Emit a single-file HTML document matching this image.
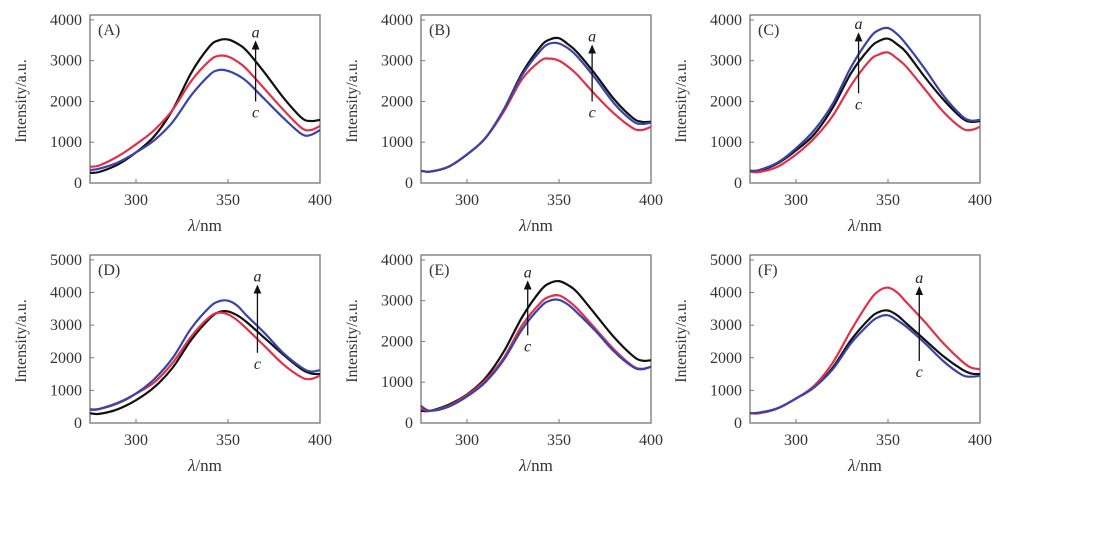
<!DOCTYPE html>
<html><head><meta charset="utf-8">
<style>
html,body{margin:0;padding:0;background:#fff;}
svg{display:block;font-family:"Liberation Serif",serif;}
</style></head>
<body>
<svg id="fig" width="1095" height="535" viewBox="0 0 1095 535"></svg>
<script>
const wavelengths = [275,280,290,300,310,320,330,340,345,350,355,360,370,380,390,395,400];
const panelLabels = ["(A)","(B)","(C)","(D)","(E)","(F)"];
const panelYMax = [4000,4000,4000,5000,4000,5000];
const xTicks = [300,350,400];
const seriesColors = ["#111111","#e0304a","#3a44a8"];
const seriesNames = ["black","red","blue"];

const A_black = [250,270,450,750,1150,1800,2700,3350,3500,3520,3420,3250,2700,2100,1600,1520,1550];
const A_red   = [400,430,650,950,1300,1800,2500,3000,3120,3100,2980,2800,2300,1800,1350,1300,1400];
const A_blue  = [320,350,500,750,1050,1500,2150,2650,2770,2750,2650,2500,2050,1600,1200,1180,1300];

const B_black = [300,280,400,700,1100,1800,2700,3350,3520,3550,3400,3200,2650,2050,1600,1500,1500];
const B_red   = [300,280,400,700,1100,1750,2550,3000,3050,3000,2850,2650,2150,1700,1350,1300,1380];
const B_blue  = [300,280,400,700,1100,1800,2650,3250,3420,3420,3300,3100,2550,1950,1520,1450,1480];

const C_black = [300,300,480,800,1200,1850,2700,3300,3480,3540,3400,3200,2600,2050,1600,1500,1520];
const C_red   = [280,270,400,700,1100,1650,2400,3000,3150,3200,3050,2850,2300,1750,1350,1300,1380];
const C_blue  = [300,320,500,850,1300,1950,2850,3550,3750,3800,3650,3400,2800,2150,1650,1530,1550];

const D_black = [300,280,420,700,1100,1700,2550,3200,3400,3420,3300,3100,2600,2100,1650,1520,1500];
const D_red   = [400,430,620,900,1250,1850,2650,3250,3380,3330,3150,2900,2350,1800,1400,1350,1450];
const D_blue  = [420,430,600,900,1350,2000,2900,3550,3730,3750,3600,3300,2750,2150,1700,1580,1620];

const E_black = [300,300,450,700,1100,1750,2600,3250,3430,3480,3380,3200,2650,2100,1650,1530,1540];
const E_red   = [350,300,420,680,1050,1600,2400,2950,3100,3130,3000,2800,2300,1800,1400,1330,1380];
const E_blue  = [420,300,400,650,1000,1550,2300,2850,3000,3020,2900,2700,2250,1750,1380,1320,1380];

const F_black = [300,300,450,750,1100,1700,2550,3200,3400,3450,3300,3050,2550,2050,1650,1520,1500];
const F_red   = [300,300,450,750,1150,1850,2850,3750,4050,4150,4000,3700,3100,2450,1900,1700,1650];
const F_blue  = [300,320,450,750,1100,1650,2450,3050,3250,3300,3150,2950,2450,1900,1480,1420,1450];

const panelSeries = [[A_black,A_red,A_blue],[B_black,B_red,B_blue],[C_black,C_red,C_blue],
                     [D_black,D_red,D_blue],[E_black,E_red,E_blue],[F_black,F_red,F_blue]];
const arrowX = [365,368,334,366,333,367];
const arrowTop = [3500,3400,3700,4250,3500,4200];
const arrowBot = [2000,2000,2200,2150,2150,1900];

const NS="http://www.w3.org/2000/svg";
const svg=document.getElementById('fig');
function mk(tag,attrs,parent){const e=document.createElementNS(NS,tag);for(const k in attrs)e.setAttribute(k,attrs[k]);(parent||svg).appendChild(e);return e;}

const colX=[90,421,750], rowY=[15,255];
const W=230, H=168;
svg.innerHTML+='<defs><marker id="ah" markerWidth="8" markerHeight="8" refX="4" refY="4" orient="auto"><path d="M0,1 L7,4 L0,7 Z" fill="#111"/></marker></defs>';

for(let p=0;p<6;p++){
  const x0=colX[p%3], y0=rowY[Math.floor(p/3)];
  const ymax=panelYMax[p];
  const top=ymax*1.03;
  const sx=v=>x0+(v-275)/(400-275)*W;
  const sy=v=>y0+H-(v/top)*H;
  const g=mk('g',{});
  
  
  const box=mk('rect',{x:x0,y:y0,width:W,height:H,fill:'none',stroke:'#777','stroke-width':1.3},g);
  
  
  for(let v=0;v<=ymax;v+=1000){
    const y=sy(v);
    mk('line',{x1:x0,x2:x0+4,y1:y,y2:y,stroke:'#777'},g);
    const t=mk('text',{x:x0-8,y:y+5,'text-anchor':'end','font-size':16,fill:'#333'},g);
    t.textContent=v;
    
    
  }
  for(const v of xTicks){
    const x=sx(v);
    mk('line',{x1:x,x2:x,y1:y0+H,y2:y0+H-4,stroke:'#777'},g);
    const t=mk('text',{x:x,y:y0+H+22,'text-anchor':'middle','font-size':16,fill:'#333'},g);
    t.textContent=v;
    
    
  }
  const yt=mk('text',{x:0,y:0,'text-anchor':'middle','font-size':16,fill:'#333',transform:`translate(${x0-64},${y0+H/2+2}) rotate(-90)`},g);
  yt.textContent='Intensity/a.u.';
  
  
  const xt=mk('text',{x:x0+W/2,y:y0+H+48,'text-anchor':'middle','font-size':17,fill:'#333'},g);
  xt.innerHTML='<tspan font-style="italic">λ</tspan>/nm';
  
  
  const pl=mk('text',{x:x0+8,y:y0+20,'font-size':16,fill:'#333'},g);
  pl.textContent=panelLabels[p];
  
  
  panelSeries[p].forEach((vals,i)=>{
    const pts=wavelengths.map((w,k)=>[sx(w),sy(vals[k])]);
    let d='M'+pts[0][0].toFixed(1)+','+pts[0][1].toFixed(1);
    for(let k=0;k<pts.length-1;k++){
      const p0=pts[Math.max(0,k-1)],p1=pts[k],p2=pts[k+1],p3=pts[Math.min(pts.length-1,k+2)];
      const c1=[p1[0]+(p2[0]-p0[0])/6,p1[1]+(p2[1]-p0[1])/6];
      const c2=[p2[0]-(p3[0]-p1[0])/6,p2[1]-(p3[1]-p1[1])/6];
      d+=` C${c1[0].toFixed(1)},${c1[1].toFixed(1)} ${c2[0].toFixed(1)},${c2[1].toFixed(1)} ${p2[0].toFixed(1)},${p2[1].toFixed(1)}`;
    }
    const path=mk('path',{d:d,fill:'none',stroke:seriesColors[i],'stroke-width':2.2},g);
    
    
  });
  const ax=sx(arrowX[p]);
  const ar=mk('line',{x1:ax,x2:ax,y1:sy(arrowBot[p]),y2:sy(arrowTop[p])+4,stroke:'#111','stroke-width':1.3,'marker-end':'url(#ah)'},g);
  
  
  const la=mk('text',{x:ax,y:sy(arrowTop[p])-3,'text-anchor':'middle','font-size':16,'font-style':'italic',fill:'#222'},g);
  la.textContent='a';
  
  
  const lc=mk('text',{x:ax,y:sy(arrowBot[p])+16,'text-anchor':'middle','font-size':16,'font-style':'italic',fill:'#222'},g);
  lc.textContent='c';
  
  
}
</script>
</body></html>
